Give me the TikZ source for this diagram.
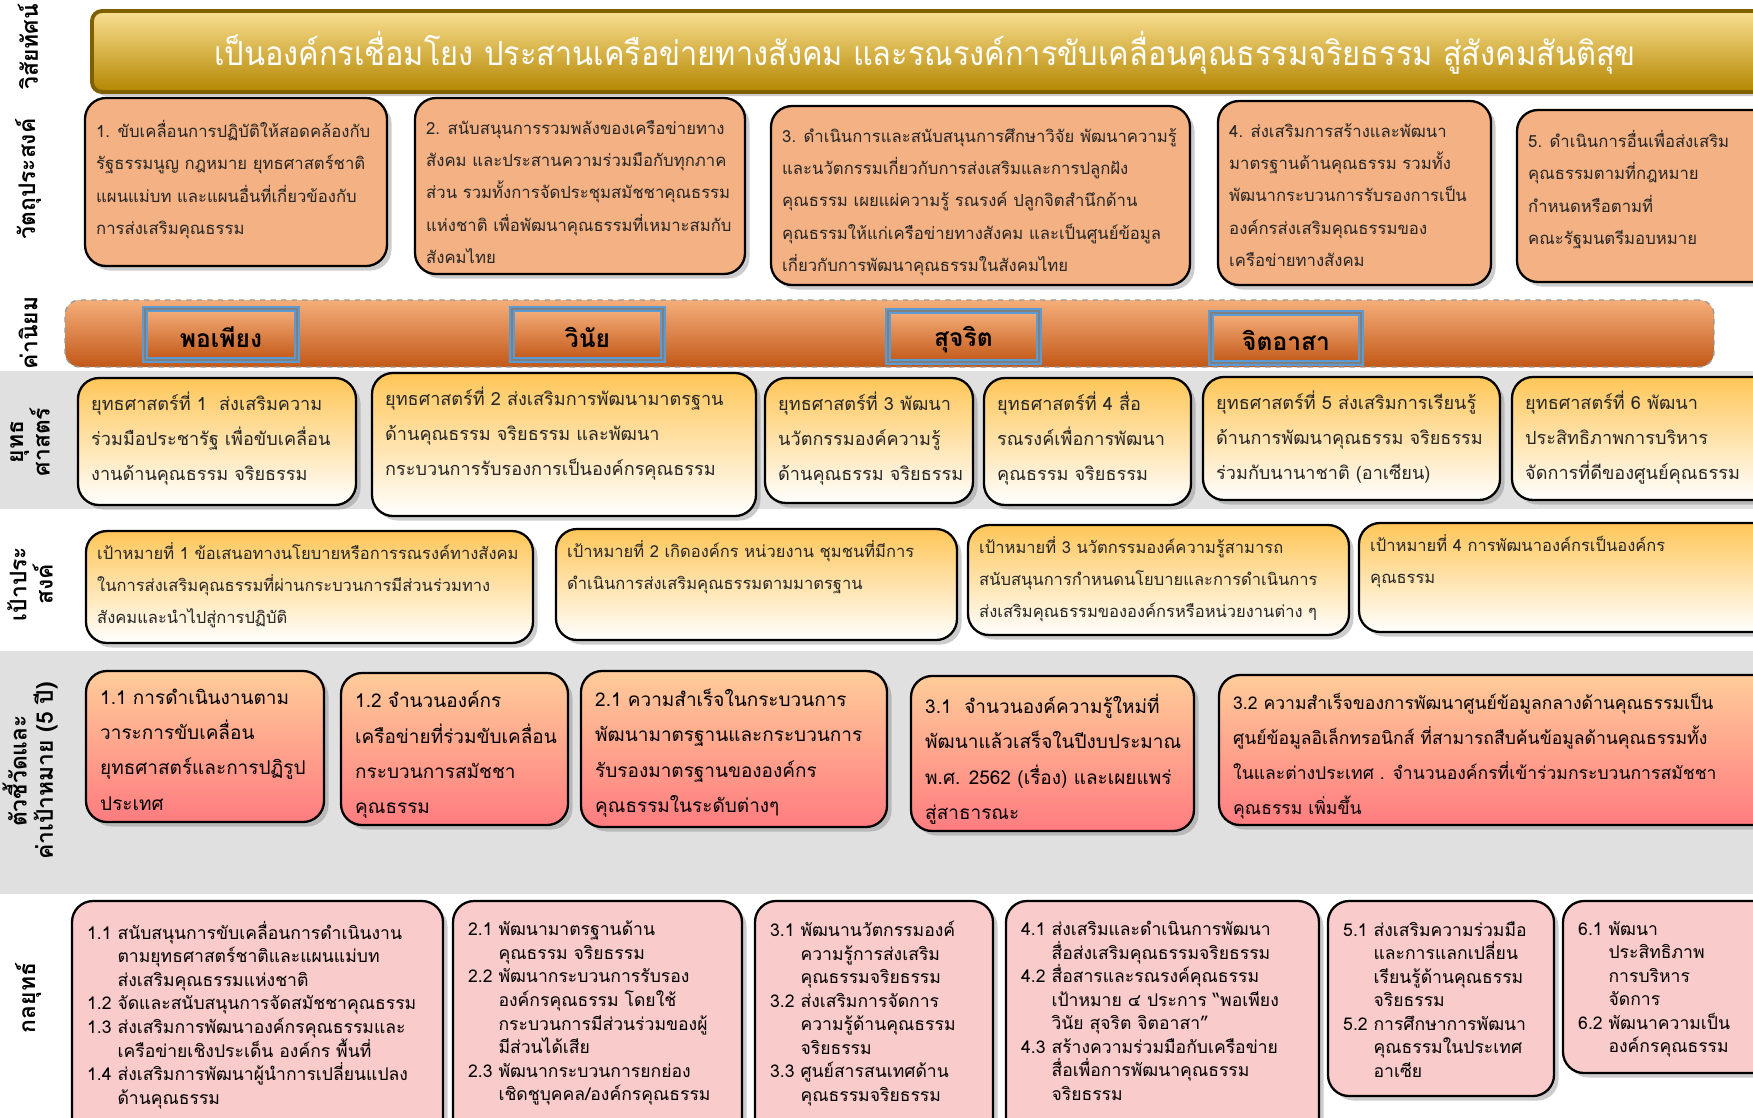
\documentclass[tikz,border=0pt]{standalone}
\usepackage{fontspec}
\setmainfont[Script=Thai]{Loma}
\usetikzlibrary{positioning, shadows, fit}

\definecolor{visiontop}{HTML}{F9DF91}
\definecolor{visionmid}{HTML}{D9AD2A}
\definecolor{visionbot}{HTML}{B48600}
\definecolor{visionline}{HTML}{7F6000}
\definecolor{objfill}{HTML}{F4B183}
\definecolor{valtop}{HTML}{F5AE7A}
\definecolor{valmid}{HTML}{EC7F36}
\definecolor{valbot}{HTML}{C25818}
\definecolor{valblue}{HTML}{5B9BD5}
\definecolor{valinner}{HTML}{7F7F7F}
\definecolor{strattop}{HTML}{FFC658}
\definecolor{indtop}{HTML}{FFCC99}
\definecolor{indbot}{HTML}{FF7C80}
\definecolor{planfill}{HTML}{F9CBCB}
\definecolor{bandgray}{HTML}{E0E0E0}
\definecolor{txtgray}{HTML}{262626}

\newcommand{\subind}{\hphantom{1.1 }}

\tikzset{
  panel/.style={draw=black, line width=1.3pt, rounded corners=0.42cm, inner sep=0pt,
    drop shadow={shadow xshift=0.09cm, shadow yshift=-0.09cm, opacity=0.4}},
  objbox/.style={panel, fill=objfill},
  stratbox/.style={panel, top color=strattop, bottom color=white},
  indbox/.style={panel, top color=indtop, bottom color=indbot},
  planbox/.style={panel, fill=planfill},
  visionbox/.style={draw=visionline, line width=2.2pt, rounded corners=0.2cm, inner sep=0pt,
    top color=visiontop, middle color=visionmid, bottom color=visionbot,
    drop shadow={shadow xshift=0.08cm, shadow yshift=-0.08cm, opacity=0.4}},
  valband/.style={draw=gray!80, dashed, line width=0.8pt, rounded corners=0.3cm, inner sep=0pt,
    top color=valtop, middle color=valmid, bottom color=valbot},
  valbox/.style={draw=valblue, line width=3pt, inner sep=0pt,
    top color=valtop, middle color=valmid, bottom color=valbot,
    postaction={draw=valinner, line width=0.6pt}},
  valtxt/.style={font=\bfseries\fontsize{14}{16}\selectfont, inner sep=0pt},
  boxtxt/.style={anchor=north west, align=left, inner sep=0pt, text=txtgray},
  objtxt/.style={boxtxt, font=\fontsize{9.5}{18.4}\selectfont},
  strattxt/.style={boxtxt, font=\fontsize{10.3}{19.8}\selectfont},
  goaltxt/.style={boxtxt, font=\fontsize{9.4}{18.2}\selectfont},
  indtxt/.style={boxtxt, text=black, font=\fontsize{10.8}{20}\selectfont},
  plantxt/.style={boxtxt, text=black, font=\fontsize{10}{13.4}\selectfont},
  visiontxt/.style={text=white, xscale=0.92, font=\fontsize{19}{21}\selectfont},
  sidelabel/.style={rotate=90, align=center, font=\bfseries\fontsize{13}{15}\selectfont}
}

\begin{document}
\begin{tikzpicture}[x=0.02cm, y=-0.02cm]
\useasboundingbox (0,0) rectangle (1753,1117);
\clip (0,0) rectangle (1753,1117);
\fill[white] (0,0) rectangle (1753,1117);

% grey bands
\fill[bandgray] (0,371) rectangle (1753,509);
\fill[bandgray] (0,651) rectangle (1753,894);

% side labels
\node[sidelabel] (lblvision) at (28,47) {วิสัยทัศน์};
\node[sidelabel] (lblobj) at (28,179) {วัตถุประสงค์};
\node[sidelabel] (lblval) at (28,333) {ค่านิยม};
\node[sidelabel] (lblstrat) at (30,442) {ยุทธ\\ศาสตร์};
\node[sidelabel] (lblgoal) at (30,584) {เป้าประ\\สงค์};
\node[sidelabel] (lblind) at (30,771) {ตัวชี้วัดและ\\ค่าเป้าหมาย (5 ปี)};
\node[sidelabel] (lblplan) at (28,998) {กลยุทธ์};

% vision
\node[visionbox, fit={(92,11) (1790,92)}] (vision) {};
\node[visiontxt] (visiontext) at (925,53) {เป็นองค์กรเชื่อมโยง ประสานเครือข่ายทางสังคม และรณรงค์การขับเคลื่อนคุณธรรมจริยธรรม สู่สังคมสันติสุข};

% objectives
\node[objbox, fit={(85,98) (387,266)}] (obj1) {};
\node[objbox, fit={(415,98) (745,274)}] (obj2) {};
\node[objbox, fit={(771,106) (1190,285)}] (obj3) {};
\node[objbox, fit={(1218,101) (1491,285)}] (obj4) {};
\node[objbox, fit={(1517,110) (1775,282)}] (obj5) {};
\node[objtxt] (obj1t) at ([shift={(12,23)}]obj1.north west) {1. ขับเคลื่อนการปฏิบัติให้สอดคล้องกับ\\รัฐธรรมนูญ กฎหมาย ยุทธศาสตร์ชาติ\\แผนแม่บท และแผนอื่นที่เกี่ยวข้องกับ\\การส่งเสริมคุณธรรม};
\node[objtxt] (obj2t) at ([shift={(12,23)}]obj2.north west) {2. สนับสนุนการรวมพลังของเครือข่ายทาง\\สังคม และประสานความร่วมมือกับทุกภาค\\ส่วน รวมทั้งการจัดประชุมสมัชชาคุณธรรม\\แห่งชาติ เพื่อพัฒนาคุณธรรมที่เหมาะสมกับ\\สังคมไทย};
\node[objtxt] (obj3t) at ([shift={(12,23)}]obj3.north west) {3. ดำเนินการและสนับสนุนการศึกษาวิจัย พัฒนาความรู้\\และนวัตกรรมเกี่ยวกับการส่งเสริมและการปลูกฝัง\\คุณธรรม เผยแผ่ความรู้ รณรงค์ ปลูกจิตสำนึกด้าน\\คุณธรรมให้แก่เครือข่ายทางสังคม และเป็นศูนย์ข้อมูล\\เกี่ยวกับการพัฒนาคุณธรรมในสังคมไทย};
\node[objtxt] (obj4t) at ([shift={(12,23)}]obj4.north west) {4. ส่งเสริมการสร้างและพัฒนา\\มาตรฐานด้านคุณธรรม รวมทั้ง\\พัฒนากระบวนการรับรองการเป็น\\องค์กรส่งเสริมคุณธรรมของ\\เครือข่ายทางสังคม};
\node[objtxt] (obj5t) at ([shift={(12,21)}]obj5.north west) {5. ดำเนินการอื่นเพื่อส่งเสริม\\คุณธรรมตามที่กฎหมาย\\กำหนดหรือตามที่\\คณะรัฐมนตรีมอบหมาย};

% values
\node[valband, fit={(65,300) (1714,367)}] (values) {};
\node[valbox, fit={(145,309) (297,360)}] (val1) {};
\node[valbox, fit={(512,309) (663,360)}] (val2) {};
\node[valbox, fit={(888,311) (1039,362)}] (val3) {};
\node[valbox, fit={(1211,313) (1361,363)}] (val4) {};
\node[valtxt] (val1t) at ([yshift=-1.5pt]val1.center) {พอเพียง};
\node[valtxt] (val2t) at ([yshift=-1.5pt]val2.center) {วินัย};
\node[valtxt] (val3t) at ([yshift=-1.5pt]val3.center) {สุจริต};
\node[valtxt] (val4t) at ([yshift=-1.5pt]val4.center) {จิตอาสา};

% strategies
\node[stratbox, fit={(78,378) (356,505)}] (strat1) {};
\node[stratbox, fit={(372,373) (756,516)}] (strat2) {};
\node[stratbox, fit={(765,378) (973,503)}] (strat3) {};
\node[stratbox, fit={(984,378) (1191,505)}] (strat4) {};
\node[stratbox, fit={(1203,377) (1500,500)}] (strat5) {};
\node[stratbox, fit={(1512,377) (1775,500)}] (strat6) {};
\node[strattxt] (strat1t) at ([shift={(14,15)}]strat1.north west) {ยุทธศาสตร์ที่ 1~~ส่งเสริมความ\\ร่วมมือประชารัฐ เพื่อขับเคลื่อน\\งานด้านคุณธรรม จริยธรรม};
\node[strattxt] (strat2t) at ([shift={(14,15)}]strat2.north west) {ยุทธศาสตร์ที่ 2 ส่งเสริมการพัฒนามาตรฐาน\\ด้านคุณธรรม จริยธรรม และพัฒนา\\กระบวนการรับรองการเป็นองค์กรคุณธรรม};
\node[strattxt] (strat3t) at ([shift={(14,15)}]strat3.north west) {ยุทธศาสตร์ที่ 3 พัฒนา\\นวัตกรรมองค์ความรู้\\ด้านคุณธรรม จริยธรรม};
\node[strattxt] (strat4t) at ([shift={(14,15)}]strat4.north west) {ยุทธศาสตร์ที่ 4 สื่อ\\รณรงค์เพื่อการพัฒนา\\คุณธรรม จริยธรรม};
\node[strattxt] (strat5t) at ([shift={(14,15)}]strat5.north west) {ยุทธศาสตร์ที่ 5 ส่งเสริมการเรียนรู้\\ด้านการพัฒนาคุณธรรม จริยธรรม\\ร่วมกับนานาชาติ (อาเซียน)};
\node[strattxt] (strat6t) at ([shift={(14,15)}]strat6.north west) {ยุทธศาสตร์ที่ 6 พัฒนา\\ประสิทธิภาพการบริหาร\\จัดการที่ดีของศูนย์คุณธรรม};

% goals
\node[stratbox, fit={(86,531) (533,643)}] (goal1) {};
\node[stratbox, fit={(556,529) (957,640)}] (goal2) {};
\node[stratbox, fit={(968,525) (1349,635)}] (goal3) {};
\node[stratbox, fit={(1359,523) (1775,632)}] (goal4) {};
\node[goaltxt] (goal1t) at ([shift={(12,12)}]goal1.north west) {เป้าหมายที่ 1 ข้อเสนอทางนโยบายหรือการรณรงค์ทางสังคม\\ในการส่งเสริมคุณธรรมที่ผ่านกระบวนการมีส่วนร่วมทาง\\สังคมและนำไปสู่การปฏิบัติ};
\node[goaltxt] (goal2t) at ([shift={(12,12)}]goal2.north west) {เป้าหมายที่ 2 เกิดองค์กร หน่วยงาน ชุมชนที่มีการ\\ดำเนินการส่งเสริมคุณธรรมตามมาตรฐาน};
\node[goaltxt] (goal3t) at ([shift={(12,12)}]goal3.north west) {เป้าหมายที่ 3 นวัตกรรมองค์ความรู้สามารถ\\สนับสนุนการกำหนดนโยบายและการดำเนินการ\\ส่งเสริมคุณธรรมขององค์กรหรือหน่วยงานต่าง ๆ};
\node[goaltxt] (goal4t) at ([shift={(12,12)}]goal4.north west) {เป้าหมายที่ 4 การพัฒนาองค์กรเป็นองค์กร\\คุณธรรม};

% indicators
\node[indbox, fit={(86,671) (324,822)}] (ind1) {};
\node[indbox, fit={(341,673) (568,825)}] (ind2) {};
\node[indbox, fit={(581,671) (887,827)}] (ind3) {};
\node[indbox, fit={(911,676) (1194,831)}] (ind4) {};
\node[indbox, fit={(1219,675) (1775,825)}] (ind5) {};
\node[indtxt] (ind1t) at ([shift={(15,19)}]ind1.north west) {1.1 การดำเนินงานตาม\\วาระการขับเคลื่อน\\ยุทธศาสตร์และการปฏิรูป\\ประเทศ};
\node[indtxt] (ind2t) at ([shift={(15,19)}]ind2.north west) {1.2 จำนวนองค์กร\\เครือข่ายที่ร่วมขับเคลื่อน\\กระบวนการสมัชชา\\คุณธรรม};
\node[indtxt] (ind3t) at ([shift={(15,19)}]ind3.north west) {2.1 ความสำเร็จในกระบวนการ\\พัฒนามาตรฐานและกระบวนการ\\รับรองมาตรฐานขององค์กร\\คุณธรรมในระดับต่างๆ};
\node[indtxt] (ind4t) at ([shift={(15,19)}]ind4.north west) {3.1~~จำนวนองค์ความรู้ใหม่ที่\\พัฒนาแล้วเสร็จในปีงบประมาณ\\พ.ศ. 2562 (เรื่อง) และเผยแพร่\\สู่สาธารณะ};
\node[indtxt, font=\fontsize{10}{20}\selectfont] (ind5t) at ([shift={(15,19)}]ind5.north west) {3.2 ความสำเร็จของการพัฒนาศูนย์ข้อมูลกลางด้านคุณธรรมเป็น\\ศูนย์ข้อมูลอิเล็กทรอนิกส์ ที่สามารถสืบค้นข้อมูลด้านคุณธรรมทั้ง\\ในและต่างประเทศ . จำนวนองค์กรที่เข้าร่วมกระบวนการสมัชชา\\คุณธรรม เพิ่มขึ้น};

% strategy plans
\node[planbox, fit={(72,901) (443,1150)}] (plan1) {};
\node[planbox, fit={(453,901) (742,1150)}] (plan2) {};
\node[planbox, fit={(755,901) (993,1150)}] (plan3) {};
\node[planbox, fit={(1006,901) (1319,1150)}] (plan4) {};
\node[planbox, fit={(1328,901) (1554,1096)}] (plan5) {};
\node[planbox, fit={(1563,901) (1775,1073)}] (plan6) {};
\node[plantxt] (plan1t) at ([shift={(16,21)}]plan1.north west) {1.1 สนับสนุนการขับเคลื่อนการดำเนินงาน\\\subind ตามยุทธศาสตร์ชาติและแผนแม่บท\\\subind ส่งเสริมคุณธรรมแห่งชาติ\\1.2 จัดและสนับสนุนการจัดสมัชชาคุณธรรม\\1.3 ส่งเสริมการพัฒนาองค์กรคุณธรรมและ\\\subind เครือข่ายเชิงประเด็น องค์กร พื้นที่\\1.4 ส่งเสริมการพัฒนาผู้นำการเปลี่ยนแปลง\\\subind ด้านคุณธรรม};
\node[plantxt] (plan2t) at ([shift={(16,21)}]plan2.north west) {2.1 พัฒนามาตรฐานด้าน\\\subind คุณธรรม จริยธรรม\\2.2 พัฒนากระบวนการรับรอง\\\subind องค์กรคุณธรรม โดยใช้\\\subind กระบวนการมีส่วนร่วมของผู้\\\subind มีส่วนได้เสีย\\2.3 พัฒนากระบวนการยกย่อง\\\subind เชิดชูบุคคล/องค์กรคุณธรรม};
\node[plantxt] (plan3t) at ([shift={(16,21)}]plan3.north west) {3.1 พัฒนานวัตกรรมองค์\\\subind ความรู้การส่งเสริม\\\subind คุณธรรมจริยธรรม\\3.2 ส่งเสริมการจัดการ\\\subind ความรู้ด้านคุณธรรม\\\subind จริยธรรม\\3.3 ศูนย์สารสนเทศด้าน\\\subind คุณธรรมจริยธรรม};
\node[plantxt] (plan4t) at ([shift={(16,21)}]plan4.north west) {4.1 ส่งเสริมและดำเนินการพัฒนา\\\subind สื่อส่งเสริมคุณธรรมจริยธรรม\\4.2 สื่อสารและรณรงค์คุณธรรม\\\subind เป้าหมาย ๔ ประการ “พอเพียง\\\subind วินัย สุจริต จิตอาสา”\\4.3 สร้างความร่วมมือกับเครือข่าย\\\subind สื่อเพื่อการพัฒนาคุณธรรม\\\subind จริยธรรม};
\node[plantxt] (plan5t) at ([shift={(16,21)}]plan5.north west) {5.1 ส่งเสริมความร่วมมือ\\\subind และการแลกเปลี่ยน\\\subind เรียนรู้ด้านคุณธรรม\\\subind จริยธรรม\\5.2 การศึกษาการพัฒนา\\\subind คุณธรรมในประเทศ\\\subind อาเซีย};
\node[plantxt] (plan6t) at ([shift={(16,21)}]plan6.north west) {6.1 พัฒนา\\\subind ประสิทธิภาพ\\\subind การบริหาร\\\subind จัดการ\\6.2 พัฒนาความเป็น\\\subind องค์กรคุณธรรม};
\end{tikzpicture}
\end{document}
